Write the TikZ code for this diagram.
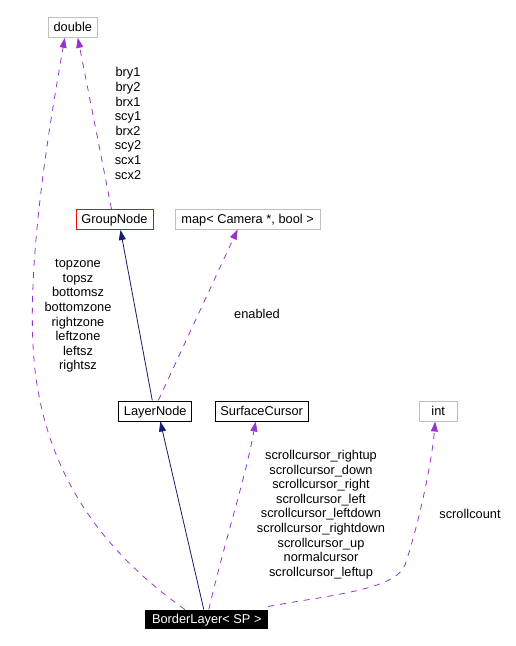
\documentclass[tikz,border=0pt]{standalone}
\usepackage{fontspec}
\setmainfont{Liberation Sans}
\usetikzlibrary{arrows.meta}
\definecolor{edgepurple}{HTML}{9A32CD}
\definecolor{edgenavy}{HTML}{191970}
\definecolor{boxgray}{HTML}{BFBFBF}
\definecolor{boxred}{HTML}{FF0000}
\begin{document}
\begin{tikzpicture}[x=1pt,y=-1pt,
  every node/.style={font=\fontsize{12.8}{14.6}\selectfont, inner sep=0pt},
  cls/.style={line width=1pt, minimum height=20pt, text height=9pt, text depth=0.5pt},
  grayc/.style={cls, draw=boxgray},
  redc/.style={cls, draw=boxred},
  blackc/.style={cls, draw=black},
  mainc/.style={cls, draw=black, fill=black, text=white, minimum height=18pt},
  use/.style={draw=edgepurple, line width=0.8pt, dash pattern=on 6pt off 6pt, -{Triangle[length=10pt,width=7pt]}},
  inh/.style={draw=edgenavy, line width=0.8pt, -{Triangle[length=10pt,width=7pt]}},
  lbl/.style={align=center, text=black}
]
\useasboundingbox (0,0) rectangle (516,646);

\node[grayc, minimum width=49pt] (double) at (72.8,27.3) {double};
\node[redc, minimum width=77pt] (group) at (114.5,219.5) {GroupNode};
\node[grayc, minimum width=145pt] (map) at (247.6,219) {map< Camera *, bool >};
\node[blackc, minimum width=72.7pt] (layer) at (155.3,411) {LayerNode};
\node[blackc, minimum width=93.3pt] (surf) at (261.7,411) {SurfaceCursor};
\node[grayc, minimum width=38.3pt] (int) at (438.2,411) {int};
\node[mainc, minimum width=121.7pt] (border) at (206.8,619) {BorderLayer< SP >};

% edges
\draw[use] ([xshift=-3pt]group.north) -- ([xshift=5pt]double.south);
\draw[use] ([xshift=-22pt]border.north) .. controls (130,570) and (50,500) .. (35,370)
   .. controls (25,280) and (45,150) .. ([xshift=-8pt]double.south);
\draw[inh] ([xshift=-3pt]layer.north) -- ([xshift=6pt]group.south);
\draw[use] ([xshift=3pt]layer.north) -- ([xshift=-10pt]map.south);
\draw[inh] ([xshift=-3pt]border.north) -- ([xshift=5pt]layer.south);
\draw[use] ([xshift=2pt]border.north) .. controls (225,540) and (245,480) .. ([xshift=-6pt]surf.south);
\draw[use] ([yshift=3pt]border.north east) .. controls (330,595) and (395,590) .. (405,565)
   .. controls (420,520) and (432,460) .. ([xshift=-3pt]int.south);

% labels
\node[lbl] (l1) at (128,123.5) {bry1\\bry2\\brx1\\scy1\\brx2\\scy2\\scx1\\scx2};
\node[lbl] (l2) at (78,316) {topzone\\topsz\\bottomsz\\bottomzone\\rightzone\\leftzone\\leftsz\\rightsz};
\node[lbl] (l3) at (257,314) {enabled};
\node[lbl] (l4) at (321,514.5) {scrollcursor\_rightup\\scrollcursor\_down\\scrollcursor\_right\\scrollcursor\_left\\scrollcursor\_leftdown\\scrollcursor\_rightdown\\scrollcursor\_up\\normalcursor\\scrollcursor\_leftup};
\node[lbl] (l5) at (470,514) {scrollcount};
\end{tikzpicture}
\end{document}
